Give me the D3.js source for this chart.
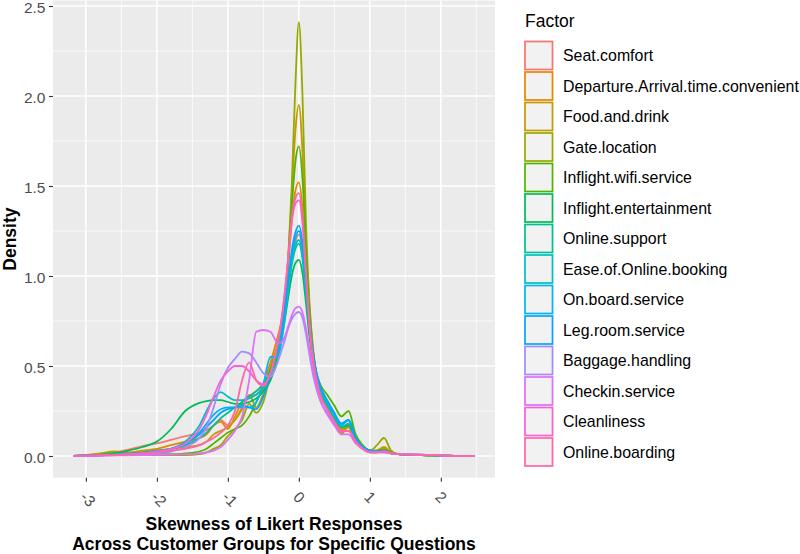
<!DOCTYPE html>
<html><head><meta charset="utf-8">
<script src="https://cdn.jsdelivr.net/npm/d3@7"></script>
<style>
html,body{margin:0;padding:0;background:#fff;}
svg{display:block;font-family:"Liberation Sans",Arial,Helvetica,sans-serif;}
</style></head>
<body>
<svg id="chart" width="800" height="554"></svg>
<script>
// ---------------- data ----------------
const factors = ["Seat.comfort","Departure.Arrival.time.convenient","Food.and.drink","Gate.location",
  "Inflight.wifi.service","Inflight.entertainment","Online.support","Ease.of.Online.booking",
  "On.board.service","Leg.room.service","Baggage.handling","Checkin.service","Cleanliness","Online.boarding"];

const xGrid = [-3.18,-3.0,-2.8,-2.6,-2.4,-2.2,-2.0,-1.8,-1.6,-1.4,-1.3,-1.2,-1.1,-1.0,-0.9,-0.8,-0.7,-0.6,-0.5,-0.4,
  -0.3,-0.25,-0.2,-0.15,-0.1,-0.05,0,0.05,0.1,0.15,0.2,0.25,0.3,0.4,0.5,0.6,0.7,0.8,0.9,1.0,
  1.1,1.2,1.3,1.4,1.6,1.8,2.0,2.2,2.48];

const seatComfort = [0,0.005,0.01,0.02,0.035,0.055,0.07,0.09,0.11,0.13,0.145,0.17,0.2,0.17,0.2,0.27,0.33,0.36,0.4,0.48,
  0.6,0.69,0.8,0.94,1.09,1.19,1.23,1.14,0.92,0.7,0.54,0.43,0.36,0.28,0.21,0.15,0.16,0.09,0.05,0.03,
  0.025,0.03,0.015,0.01,0.006,0.004,0.002,0.001,0];
const departureArrival = [0,0.005,0.01,0.02,0.02,0.03,0.04,0.06,0.08,0.1,0.12,0.17,0.19,0.15,0.22,0.3,0.33,0.34,0.4,0.52,
  0.66,0.74,0.86,1.05,1.3,1.47,1.52,1.38,1.05,0.75,0.55,0.42,0.35,0.27,0.2,0.15,0.16,0.09,0.05,0.03,
  0.03,0.04,0.02,0.01,0.006,0.004,0.002,0.001,0];
const foodAndDrink = [0,0.005,0.015,0.025,0.015,0.02,0.03,0.04,0.05,0.06,0.08,0.12,0.14,0.16,0.2,0.26,0.34,0.27,0.35,0.5,
  0.62,0.72,0.85,1.1,1.45,1.8,1.95,1.7,1.2,0.82,0.58,0.44,0.36,0.27,0.2,0.13,0.16,0.08,0.04,0.025,
  0.03,0.05,0.02,0.01,0.005,0.004,0.002,0.001,0];
const gateLocation = [0,0.003,0.01,0.02,0.01,0.005,0.005,0.005,0.005,0.01,0.02,0.04,0.06,0.11,0.15,0.2,0.29,0.24,0.3,0.45,
  0.58,0.66,0.8,1.1,1.5,2.05,2.41,2.02,1.3,0.85,0.6,0.45,0.36,0.27,0.2,0.12,0.17,0.08,0.04,0.03,
  0.06,0.1,0.03,0.01,0.005,0.005,0.002,0.001,0];
const inflightWifi = [0,0.002,0.005,0.008,0.008,0.01,0.01,0.01,0.015,0.025,0.04,0.07,0.1,0.13,0.15,0.17,0.22,0.3,0.38,0.48,
  0.6,0.7,0.85,1.08,1.38,1.63,1.72,1.55,1.15,0.8,0.58,0.46,0.4,0.34,0.28,0.22,0.25,0.12,0.06,0.03,
  0.03,0.035,0.02,0.01,0.006,0.004,0.002,0.001,0];
const inflightEntertainment = [0,0.003,0.008,0.015,0.03,0.05,0.08,0.15,0.25,0.295,0.305,0.31,0.31,0.3,0.29,0.29,0.3,0.32,0.36,0.42,
  0.55,0.64,0.75,0.88,1.0,1.07,1.09,1.02,0.85,0.66,0.52,0.42,0.36,0.28,0.21,0.16,0.17,0.09,0.05,0.03,
  0.025,0.025,0.015,0.01,0.006,0.004,0.002,0.001,0];
const onlineSupport = [0,0.003,0.006,0.01,0.015,0.02,0.03,0.04,0.06,0.1,0.13,0.17,0.21,0.24,0.27,0.3,0.33,0.36,0.4,0.47,
  0.58,0.67,0.78,0.92,1.06,1.15,1.18,1.1,0.9,0.7,0.54,0.43,0.36,0.28,0.21,0.16,0.18,0.1,0.05,0.03,
  0.025,0.03,0.015,0.01,0.006,0.004,0.002,0.001,0];
const easeOfOnlineBooking = [0,0.002,0.004,0.006,0.01,0.015,0.02,0.04,0.08,0.17,0.25,0.32,0.355,0.33,0.31,0.31,0.32,0.34,0.38,0.46,
  0.58,0.67,0.79,0.94,1.08,1.17,1.2,1.12,0.92,0.72,0.56,0.45,0.38,0.3,0.23,0.18,0.2,0.1,0.05,0.03,
  0.025,0.03,0.015,0.01,0.008,0.006,0.003,0.001,0];
const onBoardService = [0,0.002,0.004,0.006,0.01,0.015,0.025,0.04,0.07,0.13,0.18,0.23,0.26,0.27,0.27,0.27,0.27,0.3,0.4,0.55,
  0.55,0.62,0.76,0.93,1.1,1.21,1.25,1.16,0.94,0.72,0.56,0.45,0.38,0.3,0.23,0.17,0.2,0.1,0.05,0.03,
  0.025,0.03,0.015,0.01,0.008,0.006,0.003,0.001,0];
const legRoomService = [0,0.002,0.004,0.006,0.01,0.015,0.025,0.04,0.07,0.12,0.16,0.2,0.24,0.26,0.27,0.28,0.27,0.26,0.33,0.45,
  0.6,0.7,0.82,0.98,1.14,1.24,1.28,1.19,0.96,0.74,0.57,0.46,0.39,0.31,0.24,0.18,0.2,0.1,0.05,0.03,
  0.025,0.03,0.015,0.01,0.008,0.006,0.003,0.001,0];
const baggageHandling = [0,0.001,0.002,0.004,0.006,0.01,0.015,0.025,0.05,0.1,0.16,0.27,0.4,0.49,0.54,0.58,0.57,0.52,0.46,0.44,
  0.52,0.58,0.64,0.71,0.76,0.79,0.8,0.77,0.68,0.56,0.45,0.37,0.31,0.24,0.18,0.14,0.14,0.08,0.04,0.02,
  0.02,0.02,0.015,0.01,0.008,0.006,0.003,0.001,0];
const checkinService = [0,0.001,0.002,0.003,0.004,0.005,0.006,0.008,0.01,0.015,0.02,0.03,0.05,0.09,0.14,0.22,0.42,0.69,0.7,0.69,
  0.63,0.63,0.66,0.72,0.78,0.82,0.83,0.8,0.71,0.59,0.47,0.38,0.31,0.23,0.17,0.12,0.12,0.07,0.04,0.02,
  0.02,0.02,0.015,0.01,0.008,0.006,0.003,0.001,0];
const cleanliness = [0,0.002,0.004,0.006,0.01,0.015,0.025,0.04,0.07,0.15,0.23,0.33,0.42,0.47,0.5,0.5,0.47,0.42,0.4,0.46,
  0.62,0.74,0.9,1.1,1.3,1.4,1.42,1.3,1.0,0.72,0.53,0.42,0.34,0.26,0.19,0.14,0.14,0.08,0.04,0.02,
  0.02,0.025,0.015,0.01,0.008,0.006,0.003,0.001,0];
const onlineBoarding = [0,0.002,0.004,0.006,0.01,0.015,0.02,0.03,0.04,0.06,0.08,0.1,0.13,0.17,0.25,0.42,0.52,0.42,0.39,0.46,
  0.62,0.74,0.9,1.1,1.32,1.43,1.46,1.33,1.02,0.73,0.54,0.42,0.34,0.26,0.19,0.14,0.14,0.08,0.04,0.02,
  0.02,0.025,0.015,0.01,0.008,0.006,0.003,0.001,0];

const seriesValues = [seatComfort,departureArrival,foodAndDrink,gateLocation,inflightWifi,inflightEntertainment,
  onlineSupport,easeOfOnlineBooking,onBoardService,legRoomService,baggageHandling,checkinService,cleanliness,onlineBoarding];

const xTicks = [-3,-2,-1,0,1,2];
const xTickLabels = ["-3","-2","-1","0","1","2"];
const yTicks = [0,0.5,1,1.5,2,2.5];
const xMinor = [-2.5,-1.5,-0.5,0.5,1.5,2.5];
const yMinor = [0.25,0.75,1.25,1.75,2.25];

// ---------------- colours (ggplot hue palette, polar LUV) ----------------
function rHcl(h, c, l) {
  const WX = 95.047, WY = 100.0, WZ = 108.883;
  const hr = h * Math.PI / 180;
  const U = c * Math.cos(hr), V = c * Math.sin(hr);
  const Y = l > 7.999592 ? WY * Math.pow((l + 16) / 116, 3) : WY * l / 903.3;
  const t = WX + WY + WZ, xw = WX / t, yw = WY / t;
  const uN = 2 * xw / (6 * yw - xw + 1.5), vN = 4.5 * yw / (6 * yw - xw + 1.5);
  const u = U / (13 * l) + uN, v = V / (13 * l) + vN;
  const X = 9.0 * Y * u / (4 * v);
  const Z = -X / 3 - 5 * Y + 3 * Y / v;
  const g = x => x > 0.00304 ? 1.055 * Math.pow(x, 1 / 2.4) - 0.055 : 12.92 * x;
  const cl = x => Math.round(255 * Math.max(0, Math.min(1, x)));
  const r = g((3.240479 * X - 1.537150 * Y - 0.498535 * Z) / WY);
  const gg = g((-0.969256 * X + 1.875992 * Y + 0.041556 * Z) / WY);
  const b = g((0.055648 * X - 0.204043 * Y + 1.057311 * Z) / WY);
  return d3.rgb(cl(r), cl(gg), cl(b)).formatHex();
}
const colors = factors.map((f, i) => rHcl(15 + i * 360 / factors.length, 100, 65));

// ---------------- layout ----------------
const svg = d3.select("#chart");
const P = {left: 53, right: 495};
const allX = xGrid, allY = seriesValues.flat();
const xMin = d3.min(allX), xMax = d3.max(allX);
const yMin = 0, yMax = d3.max(allY);
const xe = (xMax - xMin) * 0.05, ye = (yMax - yMin) * 0.05;
const yTop = 456 - (yMax + ye) * 180, yBot = 456 + ye * 180;

const x = d3.scaleLinear().domain([xMin - xe, xMax + xe]).range([P.left, P.right]);
const y = d3.scaleLinear().domain([yMin - ye, yMax + ye]).range([yBot, yTop]);

svg.append("rect").attr("x", P.left).attr("y", yTop).attr("width", P.right - P.left).attr("height", yBot - yTop)
  .attr("fill", "#EBEBEB");

const grid = svg.append("g");
grid.selectAll(".ymin").data(yMinor).join("line")
  .attr("x1", P.left).attr("x2", P.right).attr("y1", d => y(d)).attr("y2", d => y(d))
  .attr("stroke", "#fff").attr("stroke-width", 0.75);
grid.selectAll(".xmin").data(xMinor.filter(v => x(v) > P.left && x(v) < P.right)).join("line")
  .attr("y1", yTop).attr("y2", yBot).attr("x1", d => x(d)).attr("x2", d => x(d))
  .attr("stroke", "#fff").attr("stroke-width", 0.75);
grid.selectAll(".ymaj").data(yTicks).join("line")
  .attr("x1", P.left).attr("x2", P.right).attr("y1", d => y(d)).attr("y2", d => y(d))
  .attr("stroke", "#fff").attr("stroke-width", 1.5);
grid.selectAll(".xmaj").data(xTicks).join("line")
  .attr("y1", yTop).attr("y2", yBot).attr("x1", d => x(d)).attr("x2", d => x(d))
  .attr("stroke", "#fff").attr("stroke-width", 1.5);

// clip
svg.append("clipPath").attr("id", "clip").append("rect")
  .attr("x", P.left).attr("y", yTop).attr("width", P.right - P.left).attr("height", yBot - yTop);

const line = d3.line().x(d => x(d[0])).y(d => y(d[1])).curve(d3.curveMonotoneX);
svg.append("g").attr("clip-path", "url(#clip)")
  .selectAll("path").data(seriesValues).join("path")
  .attr("d", vals => line(xGrid.map((xv, i) => [xv, vals[i]])))
  .attr("fill", "none")
  .attr("stroke", (d, i) => colors[i])
  .attr("stroke-width", 1.8)
  .attr("stroke-linejoin", "round");

// axes
const yAxis = svg.append("g").attr("transform", `translate(${P.left},0)`)
  .call(d3.axisLeft(y).tickValues(yTicks).tickFormat(d3.format(".1f")).tickSize(4).tickPadding(3.5));
yAxis.select(".domain").remove();
yAxis.selectAll(".tick line").attr("stroke", "#333333").attr("stroke-width", 1.1);
yAxis.selectAll(".tick text").attr("fill", "#4D4D4D").attr("dy", "0.42em").style("font-size", "15.5px")
  .style("font-family", "'Liberation Sans', Arial, sans-serif");

const xAxis = svg.append("g").attr("transform", `translate(0,${yBot})`)
  .call(d3.axisBottom(x).tickValues(xTicks).tickFormat((d, i) => xTickLabels[i]).tickSize(4));
xAxis.select(".domain").remove();
xAxis.selectAll(".tick line").attr("stroke", "#333333").attr("stroke-width", 1.1);
xAxis.selectAll(".tick text")
  .attr("x", 0).attr("y", 0).attr("dy", 0)
  .attr("text-anchor", "start")
  .attr("transform", `translate(-7,${498 - yBot})rotate(45)`)
  .attr("fill", "#4D4D4D").style("font-size", "15.5px")
  .style("font-family", "'Liberation Sans', Arial, sans-serif");

// axis titles
const cx = (P.left + P.right) / 2;
svg.append("text").attr("x", cx).attr("y", 530).attr("text-anchor", "middle")
  .style("font-size", "17.5px").style("font-weight", "bold").text("Skewness of Likert Responses");
svg.append("text").attr("x", cx).attr("y", 549.5).attr("text-anchor", "middle")
  .style("font-size", "17.5px").style("font-weight", "bold").text("Across Customer Groups for Specific Questions");
svg.append("text").attr("transform", `translate(16,${(yTop + yBot) / 2})rotate(-90)`)
  .attr("text-anchor", "middle").style("font-size", "17.5px").style("font-weight", "bold").text("Density");

// legend
const lg = svg.append("g");
lg.append("text").attr("x", 525).attr("y", 27).style("font-size", "17.5px").attr("fill", "#000").text("Factor");
const rowH = 30.5, keyW = 29.5, ky0 = 40.5, kx = 524;
const items = lg.selectAll(".item").data(factors).join("g")
  .attr("transform", (d, i) => `translate(${kx},${ky0 + i * rowH})`);
items.append("rect").attr("width", keyW).attr("height", rowH - 0.5).attr("fill", "#F2F2F2");
items.append("rect").attr("x", 1).attr("y", 1).attr("width", keyW - 2).attr("height", rowH - 2.5)
  .attr("fill", "none").attr("stroke", (d, i) => colors[i]).attr("stroke-width", 1.7);
items.append("text").attr("x", 563 - kx).attr("y", rowH / 2).attr("dy", "0.35em")
  .style("font-size", "15.9px").attr("fill", "#000").text(d => d);
</script>
</body></html>
